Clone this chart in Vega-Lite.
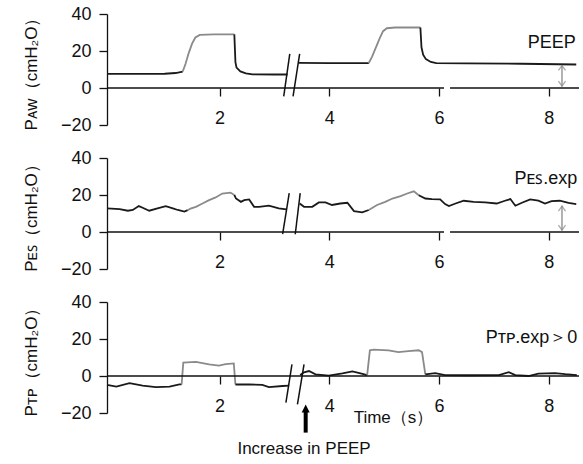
{
  "$schema": "https://vega.github.io/schema/vega-lite/v6.json",
  "padding": {"left": 22, "top": 5, "right": 2, "bottom": 2},
  "autosize": {"type": "pad"},
  "spacing": 15,
  "config": {
    "font": "Liberation Sans",
    "view": {"stroke": null},
    "axis": {"domainColor": "#111", "tickColor": "#111", "labelColor": "#111", "titleColor": "#111", "labelFontSize": 18, "titleFontSize": 17, "titleFontWeight": "normal", "grid": false, "domainWidth": 1.3, "tickWidth": 1.3, "tickSize": 8, "labelFont": "Liberation Sans", "titleFont": "Liberation Sans", "labelOverlap": false},
    "axisY": {"tickCount": 4, "labelPadding": 8, "titlePadding": 20, "labelFlush": false},
    "axisX": {"tickCount": 4, "domain": false, "offset": -37, "labelPadding": 13, "title": null},
    "text": {"font": "Liberation Sans", "fontSize": 17, "color": "#111"}
  },
  "datasets": {
    "aw": [
      {"t": -0.05, "v": 7.6, "seg": "a", "phase": "exp"},
      {"t": 0.5, "v": 7.6, "seg": "a", "phase": "exp"},
      {"t": 1.0, "v": 7.7, "seg": "a", "phase": "exp"},
      {"t": 1.2, "v": 8.1, "seg": "a", "phase": "exp"},
      {"t": 1.33, "v": 8.9, "seg": "a", "phase": "exp"},
      {"t": 1.33, "v": 8.9, "seg": "b", "phase": "insp"},
      {"t": 1.38, "v": 13, "seg": "b", "phase": "insp"},
      {"t": 1.44, "v": 19, "seg": "b", "phase": "insp"},
      {"t": 1.5, "v": 24, "seg": "b", "phase": "insp"},
      {"t": 1.56, "v": 27.3, "seg": "b", "phase": "insp"},
      {"t": 1.64, "v": 28.7, "seg": "b", "phase": "insp"},
      {"t": 1.9, "v": 29, "seg": "b", "phase": "insp"},
      {"t": 2.27, "v": 29, "seg": "b", "phase": "insp"},
      {"t": 2.27, "v": 29, "seg": "c", "phase": "exp"},
      {"t": 2.29, "v": 14, "seg": "c", "phase": "exp"},
      {"t": 2.31, "v": 11, "seg": "c", "phase": "exp"},
      {"t": 2.38, "v": 9, "seg": "c", "phase": "exp"},
      {"t": 2.48, "v": 7.9, "seg": "c", "phase": "exp"},
      {"t": 2.6, "v": 7.4, "seg": "c", "phase": "exp"},
      {"t": 3.0, "v": 7.3, "seg": "c", "phase": "exp"},
      {"t": 3.24, "v": 7.3, "seg": "c", "phase": "exp"},
      {"t": 3.44, "v": 13.6, "seg": "d", "phase": "exp"},
      {"t": 4.0, "v": 13.5, "seg": "d", "phase": "exp"},
      {"t": 4.72, "v": 13.5, "seg": "d", "phase": "exp"},
      {"t": 4.72, "v": 13.5, "seg": "e", "phase": "insp"},
      {"t": 4.78, "v": 17, "seg": "e", "phase": "insp"},
      {"t": 4.85, "v": 22, "seg": "e", "phase": "insp"},
      {"t": 4.92, "v": 27, "seg": "e", "phase": "insp"},
      {"t": 4.98, "v": 30.7, "seg": "e", "phase": "insp"},
      {"t": 5.05, "v": 32.3, "seg": "e", "phase": "insp"},
      {"t": 5.2, "v": 32.7, "seg": "e", "phase": "insp"},
      {"t": 5.66, "v": 32.7, "seg": "e", "phase": "insp"},
      {"t": 5.66, "v": 32.7, "seg": "f", "phase": "exp"},
      {"t": 5.68, "v": 22, "seg": "f", "phase": "exp"},
      {"t": 5.71, "v": 18, "seg": "f", "phase": "exp"},
      {"t": 5.76, "v": 15.6, "seg": "f", "phase": "exp"},
      {"t": 5.85, "v": 14.1, "seg": "f", "phase": "exp"},
      {"t": 5.95, "v": 13.5, "seg": "f", "phase": "exp"},
      {"t": 6.5, "v": 13.3, "seg": "f", "phase": "exp"},
      {"t": 7.5, "v": 13.1, "seg": "f", "phase": "exp"},
      {"t": 8.5, "v": 12.7, "seg": "f", "phase": "exp"}
    ],
    "es": [
      {"t": -0.05, "v": 12.8, "seg": "a", "phase": "exp"},
      {"t": 0.18, "v": 12.4, "seg": "a", "phase": "exp"},
      {"t": 0.33, "v": 11.5, "seg": "a", "phase": "exp"},
      {"t": 0.42, "v": 11.9, "seg": "a", "phase": "exp"},
      {"t": 0.53, "v": 14.0, "seg": "a", "phase": "exp"},
      {"t": 0.6, "v": 13.1, "seg": "a", "phase": "exp"},
      {"t": 0.72, "v": 11.5, "seg": "a", "phase": "exp"},
      {"t": 0.87, "v": 12.8, "seg": "a", "phase": "exp"},
      {"t": 1.02, "v": 14.0, "seg": "a", "phase": "exp"},
      {"t": 1.15, "v": 12.8, "seg": "a", "phase": "exp"},
      {"t": 1.24, "v": 11.9, "seg": "a", "phase": "exp"},
      {"t": 1.36, "v": 11.0, "seg": "a", "phase": "exp"},
      {"t": 1.42, "v": 11.8, "seg": "a", "phase": "exp"},
      {"t": 1.42, "v": 11.8, "seg": "b", "phase": "insp"},
      {"t": 1.47, "v": 12.6, "seg": "b", "phase": "insp"},
      {"t": 1.57, "v": 13.6, "seg": "b", "phase": "insp"},
      {"t": 1.69, "v": 15.4, "seg": "b", "phase": "insp"},
      {"t": 1.81, "v": 17.2, "seg": "b", "phase": "insp"},
      {"t": 1.93, "v": 18.7, "seg": "b", "phase": "insp"},
      {"t": 2.05, "v": 20.8, "seg": "b", "phase": "insp"},
      {"t": 2.2, "v": 21.3, "seg": "b", "phase": "insp"},
      {"t": 2.27, "v": 20.0, "seg": "b", "phase": "insp"},
      {"t": 2.27, "v": 20.0, "seg": "c", "phase": "exp"},
      {"t": 2.3, "v": 18.1, "seg": "c", "phase": "exp"},
      {"t": 2.39, "v": 16.3, "seg": "c", "phase": "exp"},
      {"t": 2.45, "v": 17.2, "seg": "c", "phase": "exp"},
      {"t": 2.54, "v": 17.6, "seg": "c", "phase": "exp"},
      {"t": 2.63, "v": 13.6, "seg": "c", "phase": "exp"},
      {"t": 2.72, "v": 13.6, "seg": "c", "phase": "exp"},
      {"t": 2.9, "v": 14.2, "seg": "c", "phase": "exp"},
      {"t": 3.08, "v": 12.8, "seg": "c", "phase": "exp"},
      {"t": 3.22, "v": 12.2, "seg": "c", "phase": "exp"},
      {"t": 3.46, "v": 15.4, "seg": "d", "phase": "exp"},
      {"t": 3.54, "v": 13.6, "seg": "d", "phase": "exp"},
      {"t": 3.69, "v": 13.6, "seg": "d", "phase": "exp"},
      {"t": 3.81, "v": 16.0, "seg": "d", "phase": "exp"},
      {"t": 3.93, "v": 16.0, "seg": "d", "phase": "exp"},
      {"t": 4.05, "v": 14.6, "seg": "d", "phase": "exp"},
      {"t": 4.2, "v": 15.4, "seg": "d", "phase": "exp"},
      {"t": 4.33, "v": 15.8, "seg": "d", "phase": "exp"},
      {"t": 4.45, "v": 11.3, "seg": "d", "phase": "exp"},
      {"t": 4.6, "v": 10.6, "seg": "d", "phase": "exp"},
      {"t": 4.72, "v": 11.9, "seg": "d", "phase": "exp"},
      {"t": 4.72, "v": 11.9, "seg": "e", "phase": "insp"},
      {"t": 4.87, "v": 14.6, "seg": "e", "phase": "insp"},
      {"t": 5.02, "v": 16.3, "seg": "e", "phase": "insp"},
      {"t": 5.15, "v": 18.1, "seg": "e", "phase": "insp"},
      {"t": 5.3, "v": 19.4, "seg": "e", "phase": "insp"},
      {"t": 5.42, "v": 20.8, "seg": "e", "phase": "insp"},
      {"t": 5.54, "v": 22.0, "seg": "e", "phase": "insp"},
      {"t": 5.63, "v": 19.9, "seg": "e", "phase": "insp"},
      {"t": 5.63, "v": 19.9, "seg": "f", "phase": "exp"},
      {"t": 5.75, "v": 18.1, "seg": "f", "phase": "exp"},
      {"t": 5.87, "v": 17.8, "seg": "f", "phase": "exp"},
      {"t": 6.02, "v": 17.6, "seg": "f", "phase": "exp"},
      {"t": 6.11, "v": 15.1, "seg": "f", "phase": "exp"},
      {"t": 6.18, "v": 14.0, "seg": "f", "phase": "exp"},
      {"t": 6.3, "v": 15.4, "seg": "f", "phase": "exp"},
      {"t": 6.45, "v": 16.9, "seg": "f", "phase": "exp"},
      {"t": 6.63, "v": 16.3, "seg": "f", "phase": "exp"},
      {"t": 6.84, "v": 16.0, "seg": "f", "phase": "exp"},
      {"t": 7.05, "v": 15.4, "seg": "f", "phase": "exp"},
      {"t": 7.2, "v": 16.9, "seg": "f", "phase": "exp"},
      {"t": 7.3, "v": 17.8, "seg": "f", "phase": "exp"},
      {"t": 7.39, "v": 14.2, "seg": "f", "phase": "exp"},
      {"t": 7.51, "v": 15.8, "seg": "f", "phase": "exp"},
      {"t": 7.66, "v": 17.6, "seg": "f", "phase": "exp"},
      {"t": 7.81, "v": 16.9, "seg": "f", "phase": "exp"},
      {"t": 7.93, "v": 15.4, "seg": "f", "phase": "exp"},
      {"t": 8.05, "v": 16.7, "seg": "f", "phase": "exp"},
      {"t": 8.2, "v": 16.9, "seg": "f", "phase": "exp"},
      {"t": 8.36, "v": 15.8, "seg": "f", "phase": "exp"},
      {"t": 8.5, "v": 15.1, "seg": "f", "phase": "exp"}
    ],
    "tp": [
      {"t": -0.05, "v": -4.8, "seg": "a", "phase": "exp"},
      {"t": 0.12, "v": -5.7, "seg": "a", "phase": "exp"},
      {"t": 0.36, "v": -3.9, "seg": "a", "phase": "exp"},
      {"t": 0.6, "v": -5.2, "seg": "a", "phase": "exp"},
      {"t": 0.84, "v": -6.0, "seg": "a", "phase": "exp"},
      {"t": 1.09, "v": -5.7, "seg": "a", "phase": "exp"},
      {"t": 1.27, "v": -4.5, "seg": "a", "phase": "exp"},
      {"t": 1.31, "v": -4.5, "seg": "a", "phase": "exp"},
      {"t": 1.31, "v": -4.5, "seg": "b", "phase": "insp"},
      {"t": 1.34, "v": 7.2, "seg": "b", "phase": "insp"},
      {"t": 1.57, "v": 7.6, "seg": "b", "phase": "insp"},
      {"t": 1.81, "v": 6.3, "seg": "b", "phase": "insp"},
      {"t": 1.99, "v": 5.6, "seg": "b", "phase": "insp"},
      {"t": 2.11, "v": 6.4, "seg": "b", "phase": "insp"},
      {"t": 2.26, "v": 6.8, "seg": "b", "phase": "insp"},
      {"t": 2.29, "v": -4.6, "seg": "b", "phase": "insp"},
      {"t": 2.29, "v": -4.6, "seg": "c", "phase": "exp"},
      {"t": 2.54, "v": -4.5, "seg": "c", "phase": "exp"},
      {"t": 2.78, "v": -4.8, "seg": "c", "phase": "exp"},
      {"t": 2.9, "v": -6.0, "seg": "c", "phase": "exp"},
      {"t": 3.15, "v": -5.4, "seg": "c", "phase": "exp"},
      {"t": 3.27, "v": -5.2, "seg": "c", "phase": "exp"},
      {"t": 3.47, "v": 0.6, "seg": "d", "phase": "exp"},
      {"t": 3.54, "v": 2.0, "seg": "d", "phase": "exp"},
      {"t": 3.63, "v": 2.7, "seg": "d", "phase": "exp"},
      {"t": 3.75, "v": 0.9, "seg": "d", "phase": "exp"},
      {"t": 3.99, "v": 0.2, "seg": "d", "phase": "exp"},
      {"t": 4.24, "v": 1.4, "seg": "d", "phase": "exp"},
      {"t": 4.42, "v": 2.5, "seg": "d", "phase": "exp"},
      {"t": 4.57, "v": 1.4, "seg": "d", "phase": "exp"},
      {"t": 4.69, "v": 0.5, "seg": "d", "phase": "exp"},
      {"t": 4.69, "v": 0.5, "seg": "e", "phase": "insp"},
      {"t": 4.74, "v": 13.9, "seg": "e", "phase": "insp"},
      {"t": 4.81, "v": 14.3, "seg": "e", "phase": "insp"},
      {"t": 5.08, "v": 13.9, "seg": "e", "phase": "insp"},
      {"t": 5.26, "v": 12.9, "seg": "e", "phase": "insp"},
      {"t": 5.44, "v": 13.4, "seg": "e", "phase": "insp"},
      {"t": 5.63, "v": 13.9, "seg": "e", "phase": "insp"},
      {"t": 5.69, "v": 12.9, "seg": "e", "phase": "insp"},
      {"t": 5.75, "v": 0.9, "seg": "e", "phase": "insp"},
      {"t": 5.75, "v": 0.9, "seg": "f", "phase": "exp"},
      {"t": 5.93, "v": 1.6, "seg": "f", "phase": "exp"},
      {"t": 6.11, "v": 0.5, "seg": "f", "phase": "exp"},
      {"t": 6.54, "v": 0.4, "seg": "f", "phase": "exp"},
      {"t": 7.09, "v": 0.5, "seg": "f", "phase": "exp"},
      {"t": 7.27, "v": 2.1, "seg": "f", "phase": "exp"},
      {"t": 7.39, "v": 0.5, "seg": "f", "phase": "exp"},
      {"t": 7.63, "v": 0.0, "seg": "f", "phase": "exp"},
      {"t": 7.81, "v": 1.3, "seg": "f", "phase": "exp"},
      {"t": 8.11, "v": 1.6, "seg": "f", "phase": "exp"},
      {"t": 8.3, "v": 1.0, "seg": "f", "phase": "exp"},
      {"t": 8.51, "v": 0.5, "seg": "f", "phase": "exp"}
    ]
  },
  "vconcat": [
    {
      "width": 472,
      "height": 111,
      "layer": [
        {
          "data": {"name": "aw"},
          "mark": {"type": "line", "strokeWidth": 1.8, "interpolate": "linear"},
          "encoding": {
            "x": {"field": "t", "type": "quantitative", "scale": {"domain": [-0.05, 8.55], "nice": false, "zero": false}, "axis": {"values": [2, 4, 6, 8]}},
            "y": {"field": "v", "type": "quantitative", "scale": {"domain": [-20, 40], "nice": false, "zero": false}, "axis": {"title": "Pᴀᴡ（cmH₂O）"}},
            "detail": {"field": "seg"},
            "color": {"field": "phase", "type": "nominal", "scale": {"domain": ["exp", "insp"], "range": ["#1a1a1a", "#8a8a8a"]}, "legend": null}
          }
        },
        {
          "data": {"values": [{"a": -0.05, "b": 6.09}, {"a": 6.2, "b": 8.55}]},
          "mark": {"type": "rule", "color": "#111", "strokeWidth": 1.3},
          "encoding": {"x": {"field": "a", "type": "quantitative"}, "x2": {"field": "b"}, "y": {"datum": 0, "type": "quantitative"}}
        },
        {
          "data": {"values": [{"x1": 3.17, "x2": 3.28, "y1": -4.5, "y2": 18.4}, {"x1": 3.34, "x2": 3.46, "y1": -4.5, "y2": 18.4}]},
          "mark": {"type": "rule", "color": "#111", "strokeWidth": 1.5},
          "encoding": {"x": {"field": "x1", "type": "quantitative"}, "x2": {"field": "x2"}, "y": {"field": "y1", "type": "quantitative"}, "y2": {"field": "y2"}}
        },
        {
          "data": {"values": [{"t": 8.49, "v": 21.6, "label": "PEEP"}]},
          "mark": {"type": "text", "align": "right", "baseline": "alphabetic", "fontSize": 18},
          "encoding": {"x": {"field": "t", "type": "quantitative"}, "y": {"field": "v", "type": "quantitative"}, "text": {"field": "label"}}
        },
        {
          "data": {"values": [{"t": 8.24, "lo": 0.8, "hi": 12.4}]},
          "mark": {"type": "rule", "color": "#888", "strokeWidth": 1.3},
          "encoding": {"x": {"field": "t", "type": "quantitative"}, "y": {"field": "lo", "type": "quantitative"}, "y2": {"field": "hi"}}
        },
        {
          "data": {"values": [{"t": 8.24, "v": 10.8, "dir": "up"}, {"t": 8.24, "v": 2.4, "dir": "down"}]},
          "mark": {"type": "point", "filled": false, "color": "#888", "strokeWidth": 1.3, "size": 50},
          "encoding": {"x": {"field": "t", "type": "quantitative"}, "y": {"field": "v", "type": "quantitative"}, "shape": {"field": "dir", "type": "nominal", "scale": {"domain": ["up", "down"], "range": ["M-1,0.7L0,-0.7L1,0.7", "M-1,-0.7L0,0.7L1,-0.7"]}, "legend": null}}
        }
      ]
    },
    {
      "width": 472,
      "height": 111,
      "layer": [
        {
          "data": {"name": "es"},
          "mark": {"type": "line", "strokeWidth": 1.8},
          "encoding": {
            "x": {"field": "t", "type": "quantitative", "scale": {"domain": [-0.05, 8.55], "nice": false, "zero": false}, "axis": {"values": [2, 4, 6, 8]}},
            "y": {"field": "v", "type": "quantitative", "scale": {"domain": [-20, 40], "nice": false, "zero": false}, "axis": {"title": "Pᴇꜱ（cmH₂O）"}},
            "detail": {"field": "seg"},
            "color": {"field": "phase", "type": "nominal", "scale": {"domain": ["exp", "insp"], "range": ["#1a1a1a", "#8a8a8a"]}, "legend": null}
          }
        },
        {
          "data": {"values": [{"a": -0.05, "b": 6.09}, {"a": 6.2, "b": 8.55}]},
          "mark": {"type": "rule", "color": "#111", "strokeWidth": 1.3},
          "encoding": {"x": {"field": "a", "type": "quantitative"}, "x2": {"field": "b"}, "y": {"datum": 0, "type": "quantitative"}}
        },
        {
          "data": {"values": [{"x1": 3.15, "x2": 3.27, "y1": -1.2, "y2": 21}, {"x1": 3.38, "x2": 3.47, "y1": -1.2, "y2": 21}]},
          "mark": {"type": "rule", "color": "#111", "strokeWidth": 1.5},
          "encoding": {"x": {"field": "x1", "type": "quantitative"}, "x2": {"field": "x2"}, "y": {"field": "y1", "type": "quantitative"}, "y2": {"field": "y2"}}
        },
        {
          "data": {"values": [{"t": 8.52, "v": 26.1, "label": "Pᴇꜱ.exp"}]},
          "mark": {"type": "text", "align": "right", "baseline": "alphabetic", "fontSize": 18},
          "encoding": {"x": {"field": "t", "type": "quantitative"}, "y": {"field": "v", "type": "quantitative"}, "text": {"field": "label"}}
        },
        {
          "data": {"values": [{"t": 8.24, "lo": 0.8, "hi": 14.2}]},
          "mark": {"type": "rule", "color": "#888", "strokeWidth": 1.3},
          "encoding": {"x": {"field": "t", "type": "quantitative"}, "y": {"field": "lo", "type": "quantitative"}, "y2": {"field": "hi"}}
        },
        {
          "data": {"values": [{"t": 8.24, "v": 12.6, "dir": "up"}, {"t": 8.24, "v": 2.4, "dir": "down"}]},
          "mark": {"type": "point", "filled": false, "color": "#888", "strokeWidth": 1.3, "size": 50},
          "encoding": {"x": {"field": "t", "type": "quantitative"}, "y": {"field": "v", "type": "quantitative"}, "shape": {"field": "dir", "type": "nominal", "scale": {"domain": ["up", "down"], "range": ["M-1,0.7L0,-0.7L1,0.7", "M-1,-0.7L0,0.7L1,-0.7"]}, "legend": null}}
        }
      ]
    },
    {
      "width": 472,
      "height": 111,
      "layer": [
        {
          "data": {"name": "tp"},
          "mark": {"type": "line", "strokeWidth": 1.8},
          "encoding": {
            "x": {"field": "t", "type": "quantitative", "scale": {"domain": [-0.05, 8.55], "nice": false, "zero": false}, "axis": {"values": [2, 4, 6, 8]}},
            "y": {"field": "v", "type": "quantitative", "scale": {"domain": [-20, 40], "nice": false, "zero": false}, "axis": {"title": "Pᴛᴘ（cmH₂O）"}},
            "detail": {"field": "seg"},
            "color": {"field": "phase", "type": "nominal", "scale": {"domain": ["exp", "insp"], "range": ["#1a1a1a", "#8a8a8a"]}, "legend": null}
          }
        },
        {
          "data": {"values": [{"a": -0.05, "b": 8.55}]},
          "mark": {"type": "rule", "color": "#111", "strokeWidth": 1.3},
          "encoding": {"x": {"field": "a", "type": "quantitative"}, "x2": {"field": "b"}, "y": {"datum": 0, "type": "quantitative"}}
        },
        {
          "data": {"values": [{"x1": 3.21, "x2": 3.32, "y1": -14.4, "y2": 6.3}, {"x1": 3.42, "x2": 3.54, "y1": -15.3, "y2": 6.3}]},
          "mark": {"type": "rule", "color": "#111", "strokeWidth": 1.5},
          "encoding": {"x": {"field": "x1", "type": "quantitative"}, "x2": {"field": "x2"}, "y": {"field": "y1", "type": "quantitative"}, "y2": {"field": "y2"}}
        },
        {
          "data": {"values": [{"t": 8.52, "v": 18, "label": "Pᴛᴘ.exp＞0"}]},
          "mark": {"type": "text", "align": "right", "baseline": "alphabetic", "fontSize": 18},
          "encoding": {"x": {"field": "t", "type": "quantitative"}, "y": {"field": "v", "type": "quantitative"}, "text": {"field": "label"}}
        },
        {
          "data": {"values": [{"t": 5.17, "v": -25.2, "label": "Time（s）"}, {"t": 3.54, "v": -42.3, "label": "Increase in PEEP"}]},
          "mark": {"type": "text", "align": "center", "baseline": "alphabetic", "fontSize": 17},
          "encoding": {"x": {"field": "t", "type": "quantitative"}, "y": {"field": "v", "type": "quantitative"}, "text": {"field": "label"}}
        },
        {
          "data": {"values": [{"t": 3.57, "lo": -30.6, "hi": -18.5}]},
          "mark": {"type": "rule", "color": "#000", "strokeWidth": 4},
          "encoding": {"x": {"field": "t", "type": "quantitative"}, "y": {"field": "lo", "type": "quantitative"}, "y2": {"field": "hi"}}
        },
        {
          "data": {"values": [{"t": 3.57, "v": -17.5}]},
          "mark": {"type": "point", "filled": true, "color": "#000", "opacity": 1, "size": 64, "shape": "M-1,1L0,-1L1,1Z"},
          "encoding": {"x": {"field": "t", "type": "quantitative"}, "y": {"field": "v", "type": "quantitative"}}
        }
      ]
    }
  ]
}
